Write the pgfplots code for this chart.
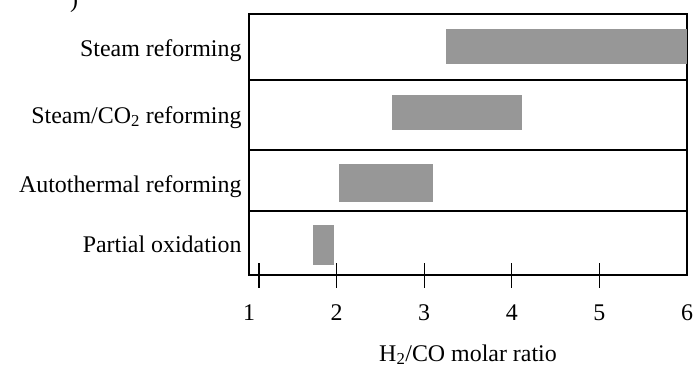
\documentclass[border=0pt]{standalone}
\usepackage{pgfplots}
\pgfplotsset{compat=1.18}
\usepackage{fontspec}
\setmainfont{Liberation Serif}
\definecolor{barg}{RGB}{151,151,151}
\begin{document}
\begin{tikzpicture}
\begin{axis}[name=ax, scale only axis, width=438bp, height=261bp,
  xmin=1, xmax=6, ymin=0, ymax=261,
  font=\fontsize{24}{28}\selectfont,
  axis line style={line width=1.3bp},
  xtick pos=bottom, ytick pos=left,
  xtick={1.114,2,3,4,5}, xticklabels={},
  tick align=center, major tick length=25bp,
  xtick style={black, line width=1.1bp},
  ytick={23,83,152,218},
  yticklabels={Partial oxidation, Autothermal reforming, Steam/CO\textsubscript{2} reforming, Steam reforming},
  ytick style={draw=none},
  yticklabel style={anchor=base east, xshift=8.5bp},
  extra x ticks={1,2,3,4,5,6}, extra x tick labels={1,2,3,4,5,6},
  extra x tick style={major tick length=0pt, xticklabel style={yshift=-26bp}},
  /pgf/number format/assume math mode=true,
  extra y ticks={64,125,195}, extra y tick labels={},
  extra y tick style={grid=major, major tick length=0pt, grid style={black, line width=1.1bp}},
  xlabel={H\textsubscript{2}/CO molar ratio},
  xlabel style={at={(axis description cs:0.5,0)}, anchor=base, yshift=-86bp},
]
\addplot[fill=barg, draw=none] coordinates {(3.25,211) (6,211) (6,246) (3.25,246)} -- cycle;
\addplot[fill=barg, draw=none] coordinates {(2.63,145) (4.12,145) (4.12,180) (2.63,180)} -- cycle;
\addplot[fill=barg, draw=none] coordinates {(2.03,73) (3.10,73) (3.10,111) (2.03,111)} -- cycle;
\addplot[fill=barg, draw=none] coordinates {(1.73,10) (1.97,10) (1.97,50) (1.73,50)} -- cycle;
\end{axis}
\node[anchor=base west, inner sep=0pt, font=\fontsize{24}{28}\selectfont] at ([xshift=-179bp, yshift=6bp]ax.north west) {)};
\pgfresetboundingbox
\useasboundingbox ([xshift=-249bp,yshift=-93bp]ax.south west) rectangle ([xshift=6bp,yshift=14bp]ax.north east);
\end{tikzpicture}
\end{document}
